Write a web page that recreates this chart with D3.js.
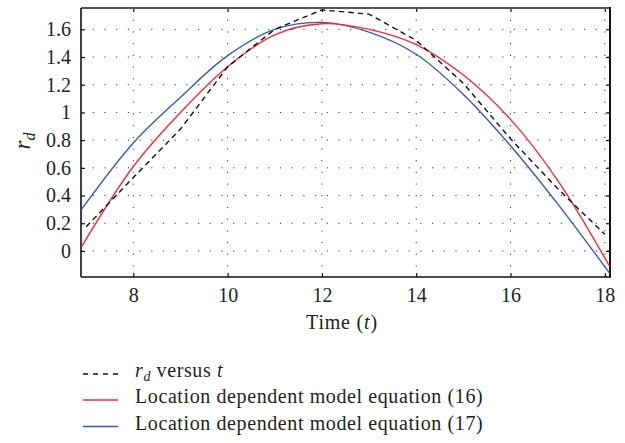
<!DOCTYPE html>
<html>
<head>
<meta charset="utf-8">
<script src="https://cdn.jsdelivr.net/npm/d3@7"></script>
<style>
  body{margin:0;background:#fff;}
  svg text{font-family:"Liberation Serif","DejaVu Serif",serif;fill:#231f20;}
</style>
</head>
<body>
<div id="chart"></div>
<script>
// values
let hours=[6.9,8,9,10,11,12,13,14,15,16,17,18.1]
let rdHours=[7,8,9,10,11,12,13,14,15,16,17,18]
let rdValues=[0.175,0.53,0.88,1.33,1.60,1.74,1.71,1.52,1.21,0.81,0.45,0.12]
let model16=[0.03,0.61,1.00,1.33,1.56,1.64,1.60,1.49,1.27,0.95,0.51,-0.11]
let model17=[0.30,0.78,1.11,1.41,1.60,1.65,1.58,1.42,1.13,0.76,0.34,-0.16]
let xTicks=[8,10,12,14,16,18]
let yTicks=[0,0.2,0.4,0.6,0.8,1,1.2,1.4,1.6]
let legendLabels=["versus","Location dependent model equation (16)","Location dependent model equation (17)"]

let width=625
let height=443
let plotLeft=81,plotRight=610,plotTop=8,plotBottom=277
let fontName='"Liberation Serif","DejaVu Serif",serif'

const svg=d3.select("#chart").append("svg").attr("width",width).attr("height",height)

let xScale=d3.scaleLinear().domain([6.89,18.11]).range([plotLeft,plotRight])
let yScale=d3.scaleLinear().domain([-0.188,1.754]).range([plotBottom,plotTop])

//dotted grid
let grid=svg.append("g").attr("stroke","#333").attr("stroke-width",1).attr("stroke-dasharray","1.2,10.5")
grid.selectAll(".gx").data(xTicks).enter().append("line")
    .attr("x1",d=>xScale(d)).attr("x2",d=>xScale(d)).attr("y1",plotTop).attr("y2",plotBottom)
grid.selectAll(".gy").data(yTicks).enter().append("line")
    .attr("y1",d=>yScale(d)).attr("y2",d=>yScale(d)).attr("x1",plotLeft).attr("x2",plotRight)

//axes, ticks pointing inside the box
let xAxis=d3.axisBottom(xScale).tickValues(xTicks).tickFormat(d3.format("d")).tickSizeInner(-4).tickSizeOuter(0).tickPadding(11)
let yAxis=d3.axisLeft(yScale).tickValues(yTicks).tickFormat(d=>d).tickSizeInner(-4).tickSizeOuter(0).tickPadding(10)
let gx=svg.append("g").attr("transform",`translate(0,${plotBottom})`).call(xAxis)
let gy=svg.append("g").attr("transform",`translate(${plotLeft},0)`).call(yAxis)
svg.append("g").attr("transform",`translate(0,${plotTop})`).call(d3.axisTop(xScale).tickValues(xTicks).tickSizeInner(-4).tickSizeOuter(0).tickFormat(""))
svg.append("g").attr("transform",`translate(${plotRight},0)`).call(d3.axisRight(yScale).tickValues(yTicks).tickSizeInner(-4).tickSizeOuter(0).tickFormat(""))
svg.selectAll(".domain").remove()
svg.selectAll("g").attr("font-family",fontName)
svg.selectAll(".tick line").attr("stroke","#111").attr("stroke-width",1.2)
gx.selectAll("text").attr("font-size",20)
gy.selectAll("text").attr("font-size",20)

//frame
svg.append("line").attr("x1",plotLeft).attr("x2",plotRight).attr("y1",plotTop).attr("y2",plotTop).attr("stroke","#555").attr("stroke-width",2)
svg.append("line").attr("x1",plotLeft).attr("x2",plotRight+1).attr("y1",plotBottom).attr("y2",plotBottom).attr("stroke","#111").attr("stroke-width",1.6)
svg.append("line").attr("x1",plotLeft).attr("x2",plotLeft).attr("y1",plotTop).attr("y2",plotBottom).attr("stroke","#111").attr("stroke-width",1.6)
svg.append("line").attr("x1",plotRight).attr("x2",plotRight).attr("y1",plotTop-1).attr("y2",plotBottom).attr("stroke","#111").attr("stroke-width",2)

//curves
let line=d3.line().x(d=>xScale(d[0])).y(d=>yScale(d[1])).curve(d3.curveCatmullRom.alpha(0.5))
let lines=[
    {pts:hours.map((t,i)=>[t,model17[i]]),color:"#3a5aae",dash:null,curve:true},
    {pts:hours.map((t,i)=>[t,model16[i]]),color:"#ee2d3a",dash:null,curve:true},
    {pts:rdHours.map((t,i)=>[t,rdValues[i]]),color:"#111",dash:"5.5,4",curve:false}
]
lines.forEach(l=>{
    let gen=l.curve ? line : d3.line().x(d=>xScale(d[0])).y(d=>yScale(d[1]))
    svg.append("path").datum(l.pts).attr("d",gen).attr("fill","none")
        .attr("stroke",l.color).attr("stroke-width",1.4).attr("stroke-dasharray",l.dash)
})

//axis labels
svg.append("text").attr("x",342).attr("y",329).attr("text-anchor","middle").attr("font-size",20)
    .attr("letter-spacing",0.8).attr("font-family",fontName)
    .html('Time (<tspan font-style="italic">t</tspan>)')
svg.append("text").attr("transform","translate(30,141) rotate(-90)").attr("text-anchor","middle").attr("font-size",23).attr("font-family",fontName)
    .html('<tspan font-style="italic">r</tspan><tspan font-style="italic" font-size="16" dy="5">d</tspan>')

//legend
let legend=svg.append("g").attr("font-family",fontName)
let legendColors=["#111","#ee2d3a","#3a5aae"]
let legendY=[374,400,426.5]
legendLabels.forEach((label,i)=>{
    legend.append("line").attr("x1",83).attr("x2",118).attr("y1",legendY[i]).attr("y2",legendY[i])
        .attr("stroke",legendColors[i]).attr("stroke-width",1.4).attr("stroke-dasharray",i==0 ? "5,5" : null)
    let t=legend.append("text").attr("x",135).attr("y",legendY[i]+3).attr("font-size",20).attr("letter-spacing",0.6)
    if(i==0){
        t.html('<tspan font-style="italic">r</tspan><tspan font-style="italic" font-size="14" dy="4">d</tspan><tspan dy="-4"> versus </tspan><tspan font-style="italic">t</tspan>')
    }else{
        t.text(label)
    }
})
</script>
</body>
</html>
